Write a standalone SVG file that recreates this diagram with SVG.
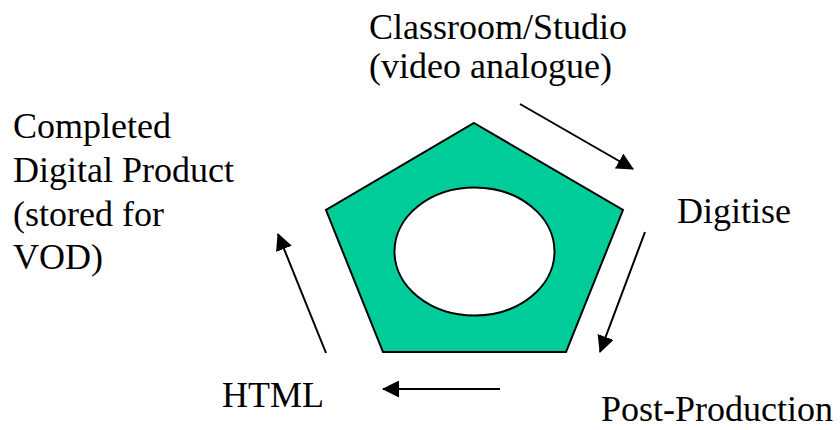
<svg xmlns="http://www.w3.org/2000/svg" width="840" height="430" viewBox="0 0 840 430">
  <defs>
    <style>
      .label { font-family: "Liberation Serif", "Times New Roman", serif; font-size: 36px; fill: #000; }
      .flow { stroke: #000; stroke-width: 2; fill: none; marker-end: url(#head); }
    </style>
    <marker id="head" markerUnits="userSpaceOnUse" markerWidth="17" markerHeight="17" viewBox="0 0 17 17" refX="16" refY="8.5" orient="auto">
      <path d="M0,0 L17,8.5 L0,17 Z" fill="#000"/>
    </marker>
  </defs>

  <rect width="840" height="430" fill="#fff"/>

  <!-- central cycle shape -->
  <g id="cycle">
    <polygon points="474,123 623,210 566,352 383,352 326,210" fill="#00CC99" stroke="#000" stroke-width="2" stroke-linejoin="miter"/>
    <ellipse cx="474.5" cy="251.5" rx="80" ry="64" fill="#fff" stroke="#000" stroke-width="2"/>
  </g>

  <!-- stage labels -->
  <g id="classroom">
    <text class="label" x="369" y="39">Classroom/Studio</text>
    <text class="label" x="369" y="78">(video analogue)</text>
  </g>
  <g id="digitise">
    <text class="label" x="677" y="223">Digitise</text>
  </g>
  <g id="post-production">
    <text class="label" x="601" y="421">Post-Production</text>
  </g>
  <g id="html">
    <text class="label" x="222" y="407">HTML</text>
  </g>
  <g id="completed">
    <text class="label" x="13" y="138">Completed</text>
    <text class="label" x="13" y="182">Digital Product</text>
    <text class="label" x="13" y="226">(stored for</text>
    <text class="label" x="13" y="269">VOD)</text>
  </g>

  <!-- connectors between stages -->
  <g id="connectors">
    <line class="flow" x1="520" y1="104" x2="633" y2="169"/>
    <line class="flow" x1="645" y1="232" x2="600" y2="352"/>
    <line class="flow" x1="500" y1="389" x2="383" y2="389"/>
    <line class="flow" x1="326" y1="353" x2="278" y2="234"/>
  </g>
</svg>
